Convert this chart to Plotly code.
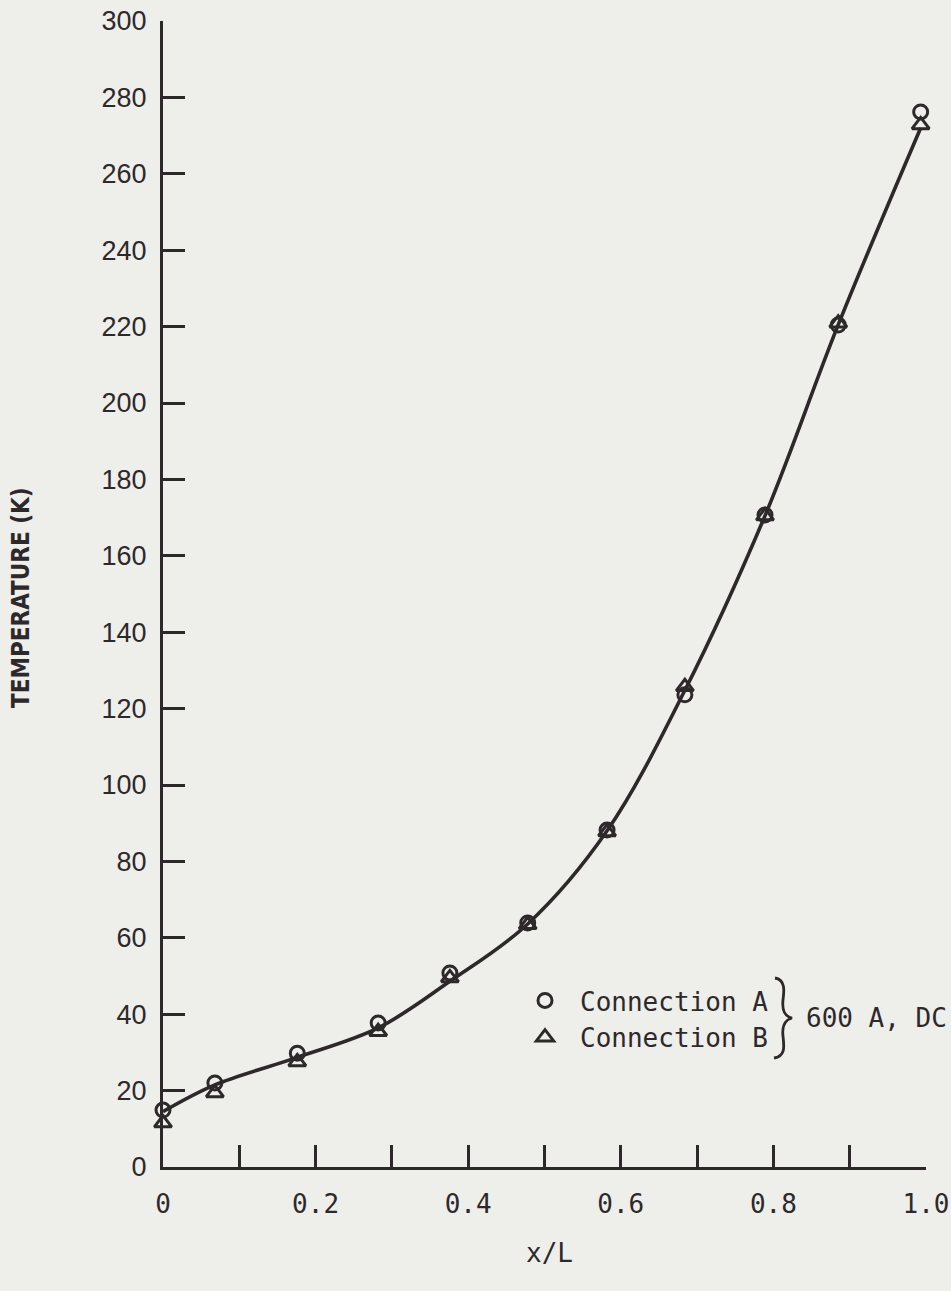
import plotly.graph_objects as go

# Position along the conductor (x/L)
x_pos = [0.0, 0.068, 0.176, 0.282, 0.376, 0.478, 0.582, 0.684, 0.789, 0.885, 0.993]

# Measured temperatures (K)
temp_a = [14.9, 22.0, 29.8, 37.7, 50.8, 63.9, 88.2, 123.6, 170.7, 220.4, 276.2]
temp_b = [11.5, 19.4, 27.5, 35.4, 49.5, 63.4, 87.7, 125.7, 170.4, 220.9, 272.8]

# Smooth curve drawn through the data
curve_x = [0.0, 0.068, 0.176, 0.282, 0.376, 0.478, 0.582, 0.684, 0.789, 0.885, 0.993]
curve_t = [14.5, 21.5, 28.7, 36.4, 48.6, 63.6, 88.0, 124.8, 170.5, 220.5, 272.0]

x_tick_vals = [0.0, 0.1, 0.2, 0.3, 0.4, 0.5, 0.6, 0.7, 0.8, 0.9, 1.0]
x_tick_text = ["0", "", "0.2", "", "0.4", "", "0.6", "", "0.8", "", "1.0"]
y_tick_vals = list(range(0, 301, 20))

INK = "#2d292a"
PAPER = "#eeeeea"
MONO = "DejaVu Sans Mono, monospace"
SANS = "Liberation Sans, Arial, sans-serif"

W, H = 951, 1291
L, R, T, B = 163, 25, 21, 124


def px_to_paper(px, py):
    return (px - L) / (W - L - R), (H - B - py) / (H - T - B)


fig = go.Figure()

fig.add_trace(go.Scatter(
    x=curve_x, y=curve_t, mode="lines",
    line=dict(color=INK, width=3.6, shape="spline", smoothing=1.0),
    showlegend=False, hoverinfo="skip", cliponaxis=False,
))
fig.add_trace(go.Scatter(
    x=x_pos, y=temp_a, mode="markers", name="Connection A",
    marker=dict(symbol="circle-open", size=14, color=INK, line=dict(width=3, color=INK)),
    cliponaxis=False,
))
fig.add_trace(go.Scatter(
    x=x_pos, y=temp_b, mode="markers", name="Connection B",
    marker=dict(symbol="triangle-up-open", size=15, color=INK, line=dict(width=3, color=INK)),
    cliponaxis=False,
))

# Brace grouping the two connections
pts = [(775, 978), (786, 980), (784, 992), (783, 1000), (782, 1010), (784, 1016), (792, 1018),
       (784, 1020), (782, 1028), (783, 1036), (784, 1046), (786, 1056), (774, 1058)]
pp = [px_to_paper(a, b) for a, b in pts]
path = "M {:.5f},{:.5f}".format(*pp[0])
for i in range(1, len(pp), 3):
    path += " C {:.5f},{:.5f} {:.5f},{:.5f} {:.5f},{:.5f}".format(*pp[i], *pp[i + 1], *pp[i + 2])
fig.add_shape(type="path", path=path, xref="paper", yref="paper",
              line=dict(color=INK, width=2.8))

bx, by = px_to_paper(804, 1018)
fig.add_annotation(x=bx, y=by, xref="paper", yref="paper", text="600 A, DC",
                   showarrow=False, xanchor="left", yanchor="middle",
                   font=dict(family=MONO, size=26, color=INK))

tx, ty = px_to_paper(21, 598)
fig.add_annotation(x=tx, y=ty, xref="paper", yref="paper", text="<b>TEMPERATURE (K)</b>",
                   showarrow=False, textangle=-90, xanchor="center", yanchor="middle",
                   font=dict(family="Liberation Sans Narrow, DejaVu Sans Condensed, Arial Narrow, sans-serif",
                             size=24, color=INK))
lx, ly = px_to_paper(549, 1253)
fig.add_annotation(x=lx, y=ly, xref="paper", yref="paper", text="x/L",
                   showarrow=False, xanchor="center", yanchor="middle",
                   font=dict(family=MONO, size=26, color=INK))

gx, gy = px_to_paper(510, 977)
fig.update_layout(
    width=W, height=H,
    margin=dict(l=L, r=R, t=T, b=B, pad=0, autoexpand=False),
    paper_bgcolor=PAPER, plot_bgcolor=PAPER,
    showlegend=True,
    legend=dict(x=gx, y=gy, xanchor="left", yanchor="top", bgcolor="rgba(0,0,0,0)",
                font=dict(family=MONO, size=26, color=INK), itemwidth=60,
                tracegroupgap=0, borderwidth=0),
    xaxis=dict(range=[0, 1.0], tickvals=x_tick_vals, ticktext=x_tick_text, automargin=False,
               ticks="inside", ticklen=22, tickwidth=3, tickcolor=INK,
               showline=True, linewidth=3, linecolor=INK, showgrid=False, zeroline=False,
               ticklabelstandoff=12, tickfont=dict(family=MONO, size=26, color=INK)),
    yaxis=dict(range=[0, 300], tickvals=y_tick_vals, automargin=False,
               ticks="inside", ticklen=22, tickwidth=3, tickcolor=INK,
               showline=True, linewidth=3, linecolor=INK, showgrid=False, zeroline=False,
               ticklabelstandoff=8, tickfont=dict(family=SANS, size=27, color=INK)),
)

fig.write_html("out.html")
